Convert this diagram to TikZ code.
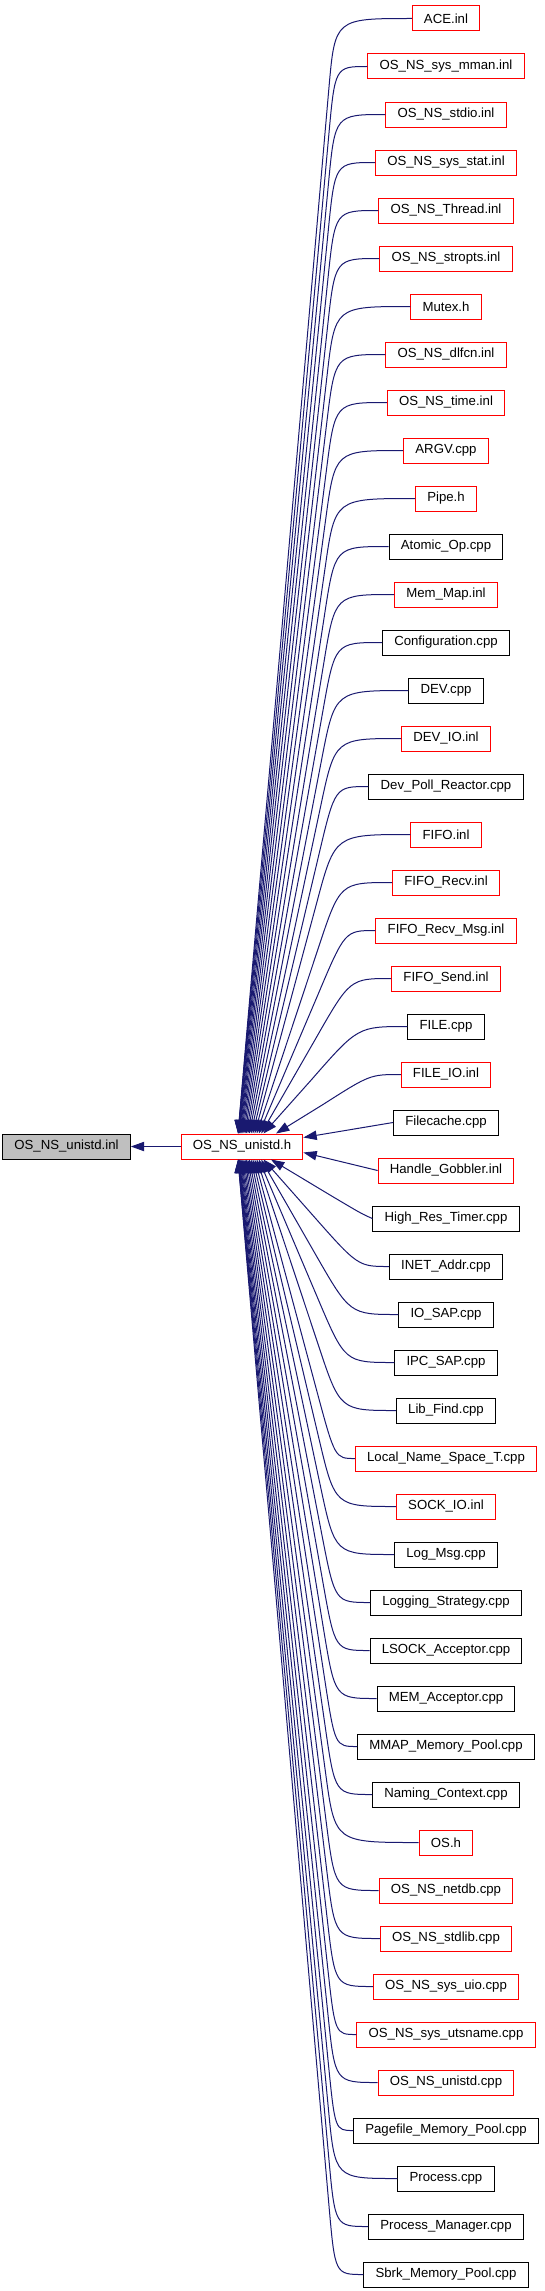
\documentclass[tikz,border=0pt]{standalone}
\usepackage{fontspec}
\setmainfont{Liberation Sans}
\usepackage{xcolor}
\usepackage{tikz}
\usetikzlibrary{arrows.meta}

\definecolor{edgeblue}{RGB}{25,25,112}

\begin{document}
\begin{tikzpicture}[x=0.75pt,y=-0.75pt,font=\fontsize{9.9pt}{11pt}\selectfont,
  filebox/.style={draw=black,line width=0.75pt,minimum height=18.75pt,inner xsep=8.8pt,inner ysep=0pt},
  redbox/.style={filebox,draw=red},
  curbox/.style={filebox,fill=black!25},
  dep/.style={edgeblue,line width=0.75pt,-{Triangle[length=10pt,width=7pt]}}]
\useasboundingbox (0,0) rectangle (544,2291);
\fill[white] (0,0) rectangle (544,2291);
% the file itself and the header that pulls it in
\node[curbox] (inl) at (66.5,1146.5) {OS\_NS\_unistd.inl};
\node[redbox] (unistdh) at (242,1146.5) {OS\_NS\_unistd.h};
\draw[dep] (unistdh.west) -- (inl.east);
% files that include OS_NS_unistd.h
\node[redbox] (ace) at (446,18.5) {ACE.inl};
\node[redbox] (mman) at (446,66.5) {OS\_NS\_sys\_mman.inl};
\node[redbox] (stdio) at (446,114.5) {OS\_NS\_stdio.inl};
\node[redbox] (sysstat) at (446,162.5) {OS\_NS\_sys\_stat.inl};
\node[redbox] (thread) at (446,210.5) {OS\_NS\_Thread.inl};
\node[redbox] (stropts) at (446,258.5) {OS\_NS\_stropts.inl};
\node[redbox] (mutex) at (446,306.5) {Mutex.h};
\node[redbox] (dlfcn) at (446,354.5) {OS\_NS\_dlfcn.inl};
\node[redbox] (time) at (446,402.5) {OS\_NS\_time.inl};
\node[redbox] (argv) at (446,450.5) {ARGV.cpp};
\node[redbox] (pipe) at (446,498.5) {Pipe.h};
\node[filebox] (atomicop) at (446,546.5) {Atomic\_Op.cpp};
\node[redbox] (memmap) at (446,594.5) {Mem\_Map.inl};
\node[filebox] (config) at (446,642.5) {Configuration.cpp};
\node[filebox] (dev) at (446,690.5) {DEV.cpp};
\node[redbox] (devio) at (446,738.5) {DEV\_IO.inl};
\node[filebox] (devpoll) at (446,786.5) {Dev\_Poll\_Reactor.cpp};
\node[redbox] (fifo) at (446,834.5) {FIFO.inl};
\node[redbox] (fiforecv) at (446,882.5) {FIFO\_Recv.inl};
\node[redbox] (fiforecvmsg) at (446,930.5) {FIFO\_Recv\_Msg.inl};
\node[redbox] (fifosend) at (446,978.5) {FIFO\_Send.inl};
\node[filebox] (file) at (446,1026.5) {FILE.cpp};
\node[redbox] (fileio) at (446,1074.5) {FILE\_IO.inl};
\node[filebox] (filecache) at (446,1122.5) {Filecache.cpp};
\node[redbox] (handlegob) at (446,1170.5) {Handle\_Gobbler.inl};
\node[filebox] (hirestimer) at (446,1218.5) {High\_Res\_Timer.cpp};
\node[filebox] (inetaddr) at (446,1266.5) {INET\_Addr.cpp};
\node[filebox] (iosap) at (446,1314.5) {IO\_SAP.cpp};
\node[filebox] (ipcsap) at (446,1362.5) {IPC\_SAP.cpp};
\node[filebox] (libfind) at (446,1410.5) {Lib\_Find.cpp};
\node[redbox] (localns) at (446,1458.5) {Local\_Name\_Space\_T.cpp};
\node[redbox] (sockio) at (446,1506.5) {SOCK\_IO.inl};
\node[filebox] (logmsg) at (446,1554.5) {Log\_Msg.cpp};
\node[filebox] (logstrat) at (446,1602.5) {Logging\_Strategy.cpp};
\node[filebox] (lsockacc) at (446,1650.5) {LSOCK\_Acceptor.cpp};
\node[filebox] (memacc) at (446,1698.5) {MEM\_Acceptor.cpp};
\node[filebox] (mmappool) at (446,1746.5) {MMAP\_Memory\_Pool.cpp};
\node[filebox] (namingctx) at (446,1794.5) {Naming\_Context.cpp};
\node[redbox] (os) at (446,1842.5) {OS.h};
\node[redbox] (netdb) at (446,1890.5) {OS\_NS\_netdb.cpp};
\node[redbox] (stdlib) at (446,1938.5) {OS\_NS\_stdlib.cpp};
\node[redbox] (sysuio) at (446,1986.5) {OS\_NS\_sys\_uio.cpp};
\node[redbox] (utsname) at (446,2034.5) {OS\_NS\_sys\_utsname.cpp};
\node[redbox] (unistdcpp) at (446,2082.5) {OS\_NS\_unistd.cpp};
\node[filebox] (pagefile) at (446,2130.5) {Pagefile\_Memory\_Pool.cpp};
\node[filebox] (process) at (446,2178.5) {Process.cpp};
\node[filebox] (procmgr) at (446,2226.5) {Process\_Manager.cpp};
\node[filebox] (sbrkpool) at (446,2274.5) {Sbrk\_Memory\_Pool.cpp};
% edges into the top of the header
\draw[dep] (ace.west) .. controls (335,18.5) .. (328.9,88.2) -- ([xshift=-3pt]unistdh.north);
\draw[dep] (mman.west) .. controls (335,66.5) .. (328.7,136.2) -- ([xshift=-2.95pt]unistdh.north);
\draw[dep] (stdio.west) .. controls (335,114.5) .. (328.4,184.2) -- ([xshift=-2.83pt]unistdh.north);
\draw[dep] (sysstat.west) .. controls (335,162.5) .. (328.1,232.2) -- ([xshift=-2.61pt]unistdh.north);
\draw[dep] (thread.west) .. controls (335,210.5) .. (327.8,280.1) -- ([xshift=-2.3pt]unistdh.north);
\draw[dep] (stropts.west) .. controls (335,258.5) .. (327.4,328.1) -- ([xshift=-1.91pt]unistdh.north);
\draw[dep] (mutex.west) .. controls (335,306.5) .. (327,376) -- ([xshift=-1.44pt]unistdh.north);
\draw[dep] (dlfcn.west) .. controls (335,354.5) .. (326.6,424) -- ([xshift=-0.88pt]unistdh.north);
\draw[dep] (time.west) .. controls (335,402.5) .. (326.2,471.9) -- ([xshift=-0.23pt]unistdh.north);
\draw[dep] (argv.west) .. controls (335,450.5) .. (325.6,519.9) -- ([xshift=0.52pt]unistdh.north);
\draw[dep] (pipe.west) .. controls (335,498.5) .. (325.1,567.8) -- ([xshift=1.34pt]unistdh.north);
\draw[dep] (atomicop.west) .. controls (335,546.5) .. (324.4,615.7) -- ([xshift=2.25pt]unistdh.north);
\draw[dep] (memmap.west) .. controls (335,594.5) .. (323.7,663.6) -- ([xshift=3.25pt]unistdh.north);
\draw[dep] (config.west) .. controls (335,642.5) .. (322.8,711.4) -- ([xshift=4.34pt]unistdh.north);
\draw[dep] (dev.west) .. controls (335,690.5) .. (321.7,759.2) -- ([xshift=5.51pt]unistdh.north);
\draw[dep] (devio.west) .. controls (335,738.5) .. (320.5,807) -- ([xshift=6.77pt]unistdh.north);
\draw[dep] (devpoll.west) .. controls (335,786.5) .. (318.9,854.6) -- ([xshift=8.11pt]unistdh.north);
\draw[dep] (fifo.west) .. controls (335,834.5) .. (316.9,902.1) -- ([xshift=9.54pt]unistdh.north);
\draw[dep] (fiforecv.west) .. controls (340,882.5) .. (318,949) -- ([xshift=11.06pt]unistdh.north);
\draw[dep] (fiforecvmsg.west) .. controls (345,930.5) .. (317.8,995) -- ([xshift=12.66pt]unistdh.north);
\draw[dep] (fifosend.west) .. controls (350,978.5) .. (315.3,1039.3) -- ([xshift=14.36pt]unistdh.north);
\draw[dep] (file.west) .. controls (358,1026.5) .. (311.9,1079.2) -- ([xshift=16.13pt]unistdh.north);
\draw[dep] (fileio.west) .. controls (370,1074.5) .. (323,1104.5) -- ([xshift=25.5pt]unistdh.north);
% edges into the side of the header
\draw[dep] (filecache.west) -- ([yshift=6.75pt]unistdh.east);
\draw[dep] (handlegob.west) -- ([yshift=-4.5pt]unistdh.east);
% edges into the bottom of the header
\draw[dep] (hirestimer.west) .. controls (362,1214) .. (330,1195) -- ([xshift=21.75pt]unistdh.south);
\draw[dep] (inetaddr.west) .. controls (358,1266.5) .. (311.7,1214) -- ([xshift=16.13pt]unistdh.south);
\draw[dep] (iosap.west) .. controls (350,1314.5) .. (315.2,1253.8) -- ([xshift=14.36pt]unistdh.south);
\draw[dep] (ipcsap.west) .. controls (345,1362.5) .. (317.7,1298.1) -- ([xshift=12.66pt]unistdh.south);
\draw[dep] (libfind.west) .. controls (340,1410.5) .. (318,1344) -- ([xshift=11.06pt]unistdh.south);
\draw[dep] (localns.west) .. controls (335,1458.5) .. (316.8,1390.9) -- ([xshift=9.54pt]unistdh.south);
\draw[dep] (sockio.west) .. controls (335,1506.5) .. (318.9,1438.4) -- ([xshift=8.11pt]unistdh.south);
\draw[dep] (logmsg.west) .. controls (335,1554.5) .. (320.4,1486) -- ([xshift=6.77pt]unistdh.south);
\draw[dep] (logstrat.west) .. controls (335,1602.5) .. (321.7,1533.8) -- ([xshift=5.51pt]unistdh.south);
\draw[dep] (lsockacc.west) .. controls (335,1650.5) .. (322.8,1581.6) -- ([xshift=4.34pt]unistdh.south);
\draw[dep] (memacc.west) .. controls (335,1698.5) .. (323.6,1629.4) -- ([xshift=3.25pt]unistdh.south);
\draw[dep] (mmappool.west) .. controls (335,1746.5) .. (324.4,1677.3) -- ([xshift=2.25pt]unistdh.south);
\draw[dep] (namingctx.west) .. controls (335,1794.5) .. (325,1725.2) -- ([xshift=1.34pt]unistdh.south);
\draw[dep] (os.west) .. controls (335,1842.5) .. (325.6,1773.1) -- ([xshift=0.52pt]unistdh.south);
\draw[dep] (netdb.west) .. controls (335,1890.5) .. (326.1,1821.1) -- ([xshift=-0.23pt]unistdh.south);
\draw[dep] (stdlib.west) .. controls (335,1938.5) .. (326.6,1869) -- ([xshift=-0.88pt]unistdh.south);
\draw[dep] (sysuio.west) .. controls (335,1986.5) .. (327,1917) -- ([xshift=-1.44pt]unistdh.south);
\draw[dep] (utsname.west) .. controls (335,2034.5) .. (327.4,1964.9) -- ([xshift=-1.91pt]unistdh.south);
\draw[dep] (unistdcpp.west) .. controls (335,2082.5) .. (327.8,2012.9) -- ([xshift=-2.3pt]unistdh.south);
\draw[dep] (pagefile.west) .. controls (335,2130.5) .. (328.1,2060.8) -- ([xshift=-2.61pt]unistdh.south);
\draw[dep] (process.west) .. controls (335,2178.5) .. (328.4,2108.8) -- ([xshift=-2.83pt]unistdh.south);
\draw[dep] (procmgr.west) .. controls (335,2226.5) .. (328.7,2156.8) -- ([xshift=-2.95pt]unistdh.south);
\draw[dep] (sbrkpool.west) .. controls (335,2274.5) .. (328.9,2204.8) -- ([xshift=-3pt]unistdh.south);
\end{tikzpicture}
\end{document}
